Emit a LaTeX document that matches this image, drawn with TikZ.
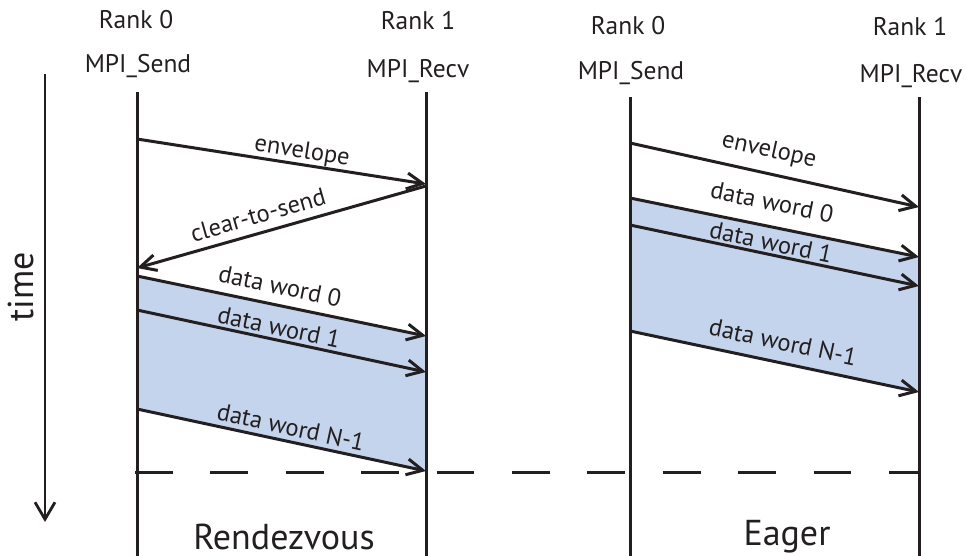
\documentclass[tikz,border=0pt]{standalone}
\usepackage{fontspec}
\setmainfont{PT Sans}
\usetikzlibrary{arrows.meta}
\definecolor{ink}{RGB}{35,31,32}
\definecolor{payload}{RGB}{196,212,236}
\begin{document}
\begin{tikzpicture}[x=1pt,y=-1pt,
  lifeline/.style={draw=ink, line width=3pt},
  msg/.style={draw=ink, line width=3pt,
    -{Straight Barb[length=16pt,width=16pt,line width=3pt]}},
  lab/.style={text=ink, font=\fontsize{24.5}{28}\selectfont, inner sep=0pt},
  head/.style={text=ink, font=\fontsize{25.5}{29}\selectfont, inner sep=0pt, anchor=base},
  big/.style={text=ink, font=\fontsize{36}{40}\selectfont, inner sep=0pt, anchor=base}]
\useasboundingbox (0,0) rectangle (966,555);

% ---------- lifeline end points ----------
\coordinate (LAtop) at (137,92);  \coordinate (LAbot) at (137,556);
\coordinate (LBtop) at (426,92);  \coordinate (LBbot) at (426,556);
\coordinate (RAtop) at (630,97);  \coordinate (RAbot) at (630,556);
\coordinate (RBtop) at (919,97);  \coordinate (RBbot) at (919,556);

% ---------- message end points: rendezvous ----------
\coordinate (LenvS) at (137,139); \coordinate (LenvE) at (426,184);
\coordinate (LctsS) at (426,186); \coordinate (LctsE) at (137,268);
\coordinate (Ld0S) at (137,276);  \coordinate (Ld0E) at (426,336);
\coordinate (Ld1S) at (137,310);  \coordinate (Ld1E) at (426,372);
\coordinate (LdnS) at (137,409);  \coordinate (LdnE) at (426,471);

% ---------- message end points: eager ----------
\coordinate (RenvS) at (630,143); \coordinate (RenvE) at (919,207);
\coordinate (Rd0S) at (630,198);  \coordinate (Rd0E) at (919,257);
\coordinate (Rd1S) at (630,225);  \coordinate (Rd1E) at (919,286);
\coordinate (RdnS) at (630,331);  \coordinate (RdnE) at (919,392);

% ---------- data transfer bands ----------
\fill[payload] (Ld0S) -- (Ld0E) -- (LdnE) -- (LdnS) -- cycle;
\fill[payload] (Rd0S) -- (Rd0E) -- (RdnE) -- (RdnS) -- cycle;

% ---------- completion line ----------
\coordinate (doneL) at (135,472); \coordinate (doneR) at (919,472);
\draw[ink, line width=3pt, dash pattern=on 37.7pt off 37.7pt] (doneL) -- (doneR);

% ---------- time axis ----------
\coordinate (timeTop) at (45,74); \coordinate (timeBot) at (45,522);
\draw[ink, line width=2.8pt,
  -{Straight Barb[length=17pt,width=20pt,line width=2.8pt]}] (timeTop) -- (timeBot);
\node[big, rotate=90] (timelab) at (33,287) {time};

% ---------- lifelines ----------
\draw[lifeline] (LAtop) -- (LAbot);
\draw[lifeline] (LBtop) -- (LBbot);
\draw[lifeline] (RAtop) -- (RAbot);
\draw[lifeline] (RBtop) -- (RBbot);

% ---------- headers ----------
\node[head] (hLA1) at (136,28) {Rank 0};
\node[head] (hLA2) at (138,72) {MPI\_Send};
\node[head] (hLB1) at (418,29) {Rank 1};
\node[head] (hLB2) at (418,77) {MPI\_Recv};
\node[head] (hRA1) at (628,34) {Rank 0};
\node[head] (hRA2) at (631,79) {MPI\_Send};
\node[head] (hRB1) at (910,35) {Rank 1};
\node[head] (hRB2) at (911,82) {MPI\_Recv};

% ---------- messages: rendezvous ----------
\draw[msg] (LenvS) -- (LenvE);
\draw[msg] (LctsS) -- (LctsE);
\draw[msg] (Ld0S) -- (Ld0E);
\draw[msg] (Ld1S) -- (Ld1E);
\draw[msg] (LdnS) -- (LdnE);
\node[lab, rotate=-8.85] (lLenv) at (302,152) {envelope};
\node[lab, rotate=15.84] (lLcts) at (258,215) {clear-to-send};
\node[lab, rotate=-11.73] (lLd0) at (280,286) {data word 0};
\node[lab, rotate=-12.11] (lLd1) at (279,327) {data word 1};
\node[lab, rotate=-12.11] (lLdn) at (291,427) {data word N-1};

% ---------- messages: eager ----------
\draw[msg] (RenvS) -- (RenvE);
\draw[msg] (Rd0S) -- (Rd0E);
\draw[msg] (Rd1S) -- (Rd1E);
\draw[msg] (RdnS) -- (RdnE);
\node[lab, rotate=-12.49] (lRenv) at (769,151) {envelope};
\node[lab, rotate=-11.54] (lRd0) at (772,202) {data word 0};
\node[lab, rotate=-11.92] (lRd1) at (771,242) {data word 1};
\node[lab, rotate=-11.92] (lRdn) at (783,342) {data word N-1};

% ---------- protocol names ----------
\node[big] (pRdv) at (284,549) {Rendezvous};
\node[big] (pEag) at (787,545) {Eager};
\end{tikzpicture}
\end{document}
